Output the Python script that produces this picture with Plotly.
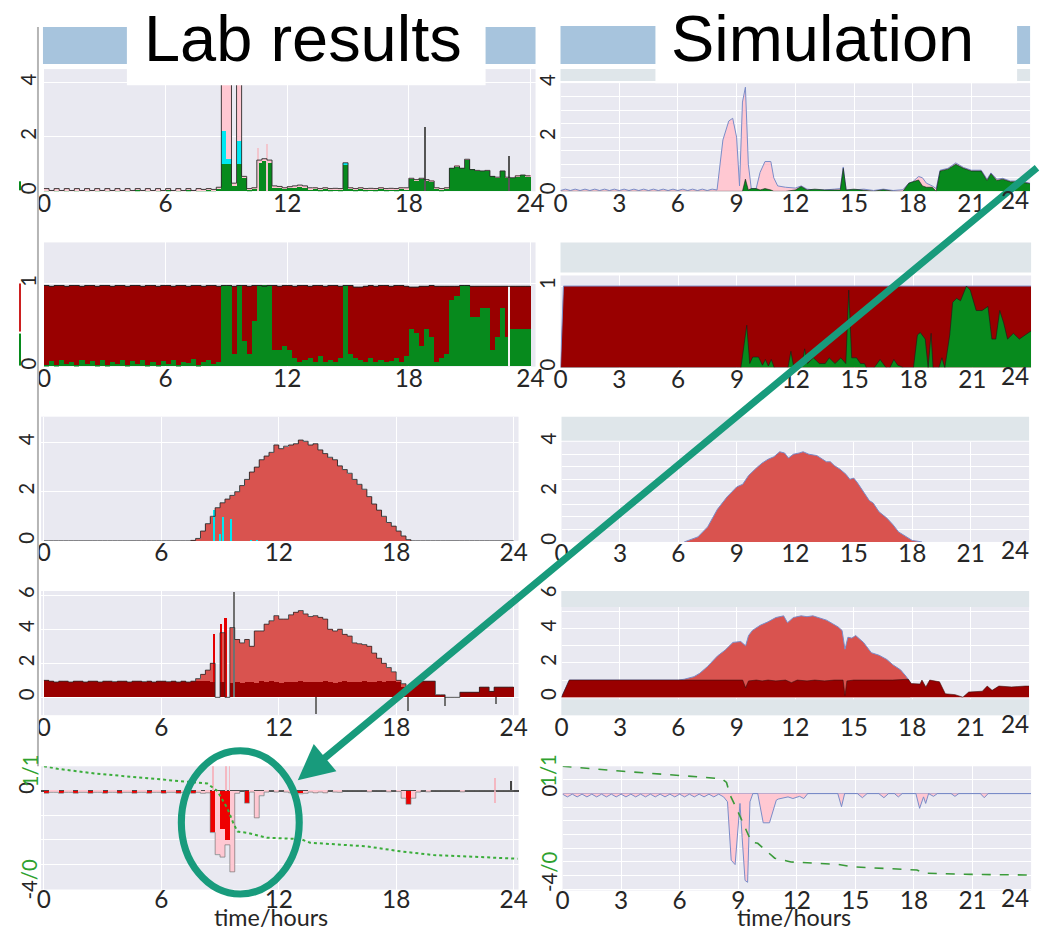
import plotly.graph_objects as go
import numpy as np

W, H = 1041, 937
# Measured mapping of the photographed page: picture = OFS + S * figure pixel.
# All positions below are given in reference-picture pixels and converted.
S, OFS = 0.9855, 6.0

# ======================= DATA =======================
LAB_T = [i * 0.25 for i in range(96)]          # start of each 15-min bin (hours)
X_TICKS_LAB = [0, 6, 12, 18, 24]
X_TICKS_SIM = [0, 3, 6, 9, 12, 15, 18, 21, 24]

# ---- Lab row 1 ----
L1_green = [0.04,0.00,0.04,0.00,0.03,0.00,0.04,0.00,
            0.04,0.00,0.03,0.00,0.04,0.00,0.04,0.00,
            0.03,0.00,0.05,0.00,0.04,0.00,0.04,0.00,
            0.05,0.00,0.04,0.00,0.06,0.00,0.04,0.02,
            0.05,0.03,0.10,1.00,1.00,0.20,1.00,0.50,
            0.05,0.10,1.05,1.10,1.05,0.15,0.15,0.10,
            0.12,0.10,0.15,0.10,0.08,0.10,0.05,0.10,
            0.05,0.08,0.05,1.00,0.10,0.05,0.10,0.05,
            0.08,0.05,0.10,0.05,0.08,0.05,0.10,0.08,
            0.45,0.40,0.45,0.40,0.35,0.10,0.05,0.10,
            0.85,0.90,0.85,1.15,0.80,0.75,0.75,0.75,
            0.55,0.50,0.75,0.50,0.50,0.55,0.60,0.55]
L1_cyan = [0,0,0,0,0,0,0,0, 0,0,0,0,0,0,0,0, 0,0,0,0,0,0,0,0, 0,0,0,0,0,0,0,0,
           0,0,0,1.20,0.20,0,0.85,0, 0,0,0,0,0,0,0,0, 0,0,0,0,0,0,0,0,
           0,0,0,0.05,0,0,0,0, 0,0,0,0,0,0,0,0, 0,0,0,0,0,0,0,0,
           0,0,0,0,0,0,0,0, 0,0,0,0,0,0,0,0]
L1_pink = [0.06,0.03,0.06,0.03,0.07,0.03,0.06,0.03,
           0.06,0.03,0.07,0.03,0.06,0.03,0.06,0.03,
           0.07,0.03,0.05,0.03,0.06,0.03,0.06,0.03,
           0.05,0.03,0.06,0.03,0.04,0.03,0.06,0.05,
           0.05,0.04,0.05,3.30,3.30,0.10,2.65,0.05,
           0.05,0.03,0.10,0.10,0.10,0.05,0.03,0.03,
           0.05,0.10,0.08,0.10,0.05,0.03,0.05,0.03,
           0.05,0.03,0.05,0.00,0.03,0.05,0.03,0.05,
           0.03,0.05,0.03,0.05,0.03,0.05,0.03,0.05,
           0.03,0.03,0.03,0.03,0.03,0.03,0.05,0.03,
           0.00,0.03,0.00,0.03,0.00,0.02,0.00,0.02,
           0.00,0.02,0.00,0.02,0.00,0.02,0.00,0.02]
L1_spike_t = [18.8, 22.95]
L1_spike_v = [2.35, 1.3]
L1_faint_t = [10.55, 11.0]
L1_faint_v = [1.6, 1.75]

# ---- Lab row 2 ----
L2_top = [0.98,0.97,0.98,0.98,0.97,0.98,0.98,0.97,
          0.98,0.98,0.97,0.98,0.98,0.97,0.98,0.98,
          0.97,0.98,0.98,0.97,0.98,0.98,0.97,0.98,
          0.98,0.97,0.98,0.98,0.97,0.98,0.98,0.97,
          0.98,0.98,0.97,0.98,0.98,0.97,0.98,0.98,
          0.97,0.98,0.98,0.97,0.98,0.98,0.97,0.98,
          0.98,0.97,0.98,0.98,0.97,0.98,0.98,0.97,
          0.98,0.98,0.97,0.98,0.98,0.96,0.96,0.97,
          0.98,0.97,0.98,0.98,0.97,0.98,0.98,0.97,
          0.96,0.96,0.97,0.97,0.98,0.97,0.97,0.97,
          0.97,0.97,0.98,0.98,0.97,0.97,0.97,0.97,
          0.97,0.97,0.97,0.97,0.97,0.97,0.97,0.97]
L2_green = [0.02,0.06,0.02,0.08,0.03,0.05,0.02,0.07,
            0.03,0.06,0.02,0.08,0.02,0.05,0.03,0.07,
            0.02,0.06,0.03,0.08,0.02,0.05,0.02,0.06,
            0.03,0.07,0.02,0.05,0.04,0.09,0.02,0.05,
            0.08,0.03,0.05,0.98,0.98,0.15,0.98,0.30,
            0.15,0.55,0.98,0.98,0.98,0.20,0.20,0.25,
            0.20,0.10,0.05,0.08,0.10,0.05,0.12,0.05,
            0.08,0.05,0.10,0.98,0.15,0.10,0.08,0.05,
            0.10,0.05,0.08,0.05,0.06,0.10,0.05,0.12,
            0.45,0.40,0.25,0.45,0.35,0.05,0.10,0.15,
            0.80,0.85,0.98,0.98,0.60,0.60,0.70,0.70,
            0.20,0.35,0.70,0.35,0.45,0.45,0.45,0.45]
L2_gap_t = [22.97]
L2_gap_v = [0.98]

# ---- Lab row 3 ----
L3_red = [0,0,0,0,0,0,0,0, 0,0,0,0,0,0,0,0, 0,0,0,0,0,0,0,0,
          0,0,0,0,0,0,0.02,0.10,
          0.40,0.70,1.00,1.35,1.55,1.70,1.85,2.00,
          2.25,2.50,2.80,3.00,3.30,3.45,3.60,3.90,
          3.75,3.85,3.90,3.95,4.10,4.05,3.90,3.95,
          3.70,3.55,3.40,3.30,3.05,2.90,2.75,2.50,
          2.30,2.10,1.80,1.50,1.25,1.00,0.75,0.60,
          0.40,0.20,0.05,0,0,0,0,0,
          0,0,0,0,0,0,0,0, 0,0,0,0,0,0,0,0]
L3_cyan_t = [8.72, 9.0, 9.15, 9.55, 10.6, 10.9]
L3_cyan_v = [1.25, 0.3, 1.0, 0.9, 0.06, 0.06]

# ---- Lab row 4 ----
L4_dark = [1.00,0.95,0.90,0.95,0.95,0.90,0.95,0.95,
           0.90,0.95,0.95,0.90,0.95,0.95,0.92,0.95,
           0.95,0.90,0.95,0.95,0.92,0.95,0.90,0.95,
           0.95,0.92,0.95,0.90,0.95,0.90,0.95,0.95,
           0.95,0.95,0.90,0.00,0.90,0.00,0.85,0.90,
           0.85,0.90,0.90,0.85,0.95,0.90,0.95,0.90,
           0.85,0.90,0.90,0.90,0.95,0.90,0.90,0.90,
           0.90,0.95,0.90,0.85,0.90,0.95,0.90,0.90,
           0.90,0.95,0.90,0.90,0.95,0.90,0.95,0.95,
           0.90,0.60,0.60,0.60,0.95,0.95,0.95,0.95,
           0.15,0.15,0.00,0.00,0.00,0.30,0.30,0.30,
           0.30,0.60,0.60,0.35,0.60,0.60,0.60,0.60]
L4_light = [0,0,0,0,0,0,0,0, 0,0,0,0,0,0,0,0, 0,0,0,0,0,0,0,0,
            0,0,0,0,0,0,0,1.10,
            1.35,1.60,2.00,0.00,3.80,0.00,4.10,3.40,
            3.20,3.40,3.00,3.90,3.90,4.30,4.50,4.80,
            4.60,4.60,4.85,5.00,5.10,4.90,4.75,4.80,
            4.70,4.60,4.00,3.90,4.00,3.70,3.60,3.20,
            3.15,3.10,3.00,2.60,2.30,2.00,1.75,1.50,
            1.00,0.80,0,0,0,0,0,0,
            0,0,0,0,0,0,0,0, 0,0,0,0,0,0,0,0]
L4_bright_t = [8.7, 9.05, 9.3]
L4_bright_v = [3.75, 4.3, 4.65]
L4_glitch_t = [9.72, 13.9, 18.6, 20.5, 23.1]
L4_glitch_v = [6.2, -1.0, -0.8, -0.5, -0.4]

# ---- Lab row 5 ----
L5_red = [-0.10,0,0,-0.10,0,0,-0.10,0,
          0,-0.10,0,0,-0.10,0,0,-0.10,
          0,0,-0.10,0,0,-0.10,0,0,
          -0.10,0,0,-0.10,0,0,-0.10,0,
          0,0,-1.70,0,-1.55,-2.00,0,0,
          0,-0.50,0,0,0,0,0,0,
          0,0,0,-0.10,-0.12,0,0,0,
          0,0,0,0,0,0,0,0,
          0,0,0,0,0,0,0,0,
          0,0,-0.55,0,0,0,0,0,
          0,0,0,0,0,0,0,0,
          0,0,0,0,0,0,0,0]
L5_pink = [0,-0.06,-0.06,0,-0.06,-0.06,0,-0.06,
           -0.06,0,-0.06,-0.06,0,-0.06,-0.06,0,
           -0.06,-0.06,0,-0.06,-0.06,0,-0.06,-0.06,
           0,-0.06,-0.06,0,-0.06,-0.06,0,-0.06,
           -0.10,-0.08,-1.70,-2.60,-2.70,-2.20,-3.30,-0.10,
           0,-0.10,-0.05,-1.10,-0.20,-0.05,0,-0.05,
           0,-0.05,-0.08,0,0,-0.10,-0.05,-0.08,
           -0.05,-0.08,0,-0.05,-0.06,0,0,0,
           0,0,-0.04,0,0,0,-0.04,0,
           -0.03,-0.30,0,-0.30,-0.05,0,-0.04,0,
           0,0,0,0,0,-0.04,0,0,
           0,0,0,0,0,0,0,0]
L5_spike_t = [8.62, 9.3, 9.48, 23.05, 23.05]
L5_spike_v = [1.0, 1.0, 1.0, 0.5, -0.5]
L5_dark_t = [23.85]
L5_dark_v = [0.4]
L5_frac_t = [0.0, 0.7, 2.7, 4.8, 7.0, 8.35, 8.86, 9.37, 9.7, 9.9, 10.4, 11.4,
             13.1, 13.6, 16.5, 18.2, 19.9, 21.6, 23.3, 24.2]
L5_frac_v = [1.0, 0.98, 0.94, 0.91, 0.88, 0.86, 0.80, 0.66, 0.53, 0.47, 0.46, 0.42,
             0.41, 0.38, 0.35, 0.31, 0.28, 0.27, 0.26, 0.25]

# ---- Simulation row 1 ----
R1_t = [0.0,0.25,0.5,0.75,1.0,1.25,1.5,1.75,2.0,2.25,2.5,2.75,3.0,3.25,3.5,3.75,
        4.0,4.25,4.5,4.75,5.0,5.25,5.5,5.75,6.0,6.25,6.5,6.75,7.0,7.25,7.5,7.75,
        8.0,8.3,8.6,8.8,9.0,9.15,9.3,9.45,9.6,9.75,10.0,10.2,10.45,10.75,10.9,11.1,
        11.5,12.0,12.3,12.6,13.0,13.5,14.0,14.3,14.45,14.6,15.0,15.5,16.0,16.5,17.0,17.5,
        17.8,18.0,18.3,18.5,18.7,19.0,19.2,19.4,19.8,20.2,20.6,21.0,21.5,21.8,22.0,22.3,
        22.6,23.0,23.5,24.0]
R1_pink = [0.03,0.08,0.03,0.08,0.03,0.08,0.03,0.08,0.03,0.08,0.03,0.08,0.03,0.08,0.03,0.08,
           0.03,0.08,0.03,0.08,0.03,0.08,0.03,0.08,0.03,0.08,0.03,0.08,0.03,0.08,0.03,0.08,
           0.05,1.9,2.6,2.7,2.0,0.2,3.3,3.85,1.0,0.1,0.1,0.7,1.1,1.1,0.5,0.2,
           0.15,0.12,0.2,0.08,0.05,0.05,0.08,0.1,0.9,0.05,0.05,0.08,0.03,0.08,0.03,0.06,
           0.3,0.35,0.55,0.5,0.3,0.2,0.1,0.78,0.85,1.05,0.88,0.78,0.78,0.45,0.68,0.45,
           0.48,0.38,0.38,0.3]
R1_green = [0,0,0,0,0,0,0,0,0,0,0,0,0,0,0,0,
            0,0,0,0,0,0,0,0,0,0,0,0,0,0,0,0,
            0,0,0,0,0,0,0,0.45,0.05,0.1,0.1,0.05,0.1,0.05,0.0,0.0,
            0.0,0.05,0.18,0.05,0.08,0.05,0.05,0.05,0.85,0.05,0.08,0.05,0.0,0.06,0.0,0.0,
            0.3,0.35,0.42,0.2,0.15,0.15,0.0,0.75,0.82,1.0,0.85,0.75,0.75,0.4,0.65,0.4,
            0.45,0.35,0.35,0.28]

# ---- Simulation row 2 ----
R2_red_t = [0.0, 0.15, 24.0]
R2_red = [0.0, 1.0, 1.0]
R2_t = [0.0,9.2,9.5,9.65,9.8,10.1,10.3,10.45,10.6,10.75,10.9,11.6,11.75,11.9,12.3,12.45,
        12.6,12.9,13.2,13.5,13.7,14.0,14.3,14.55,14.7,14.85,15.1,15.3,15.5,15.6,16.0,16.3,
        16.6,16.8,17.0,17.2,17.5,18.0,18.2,18.35,18.6,18.75,18.9,19.0,19.3,19.45,19.6,19.85,
        20.0,20.2,20.4,20.7,20.9,21.2,21.5,21.8,22.0,22.2,22.4,22.6,22.8,23.1,23.4,24.0]
R2_green = [0.0,0.0,0.52,0.05,0.13,0.13,0.03,0.1,0.02,0.1,0.0,0.0,0.2,0.0,0.02,0.23,
            0.05,0.12,0.05,0.05,0.12,0.05,0.12,0.05,0.95,0.12,0.12,0.05,0.05,0.0,0.0,0.1,
            0.0,0.0,0.1,0.03,0.0,0.0,0.4,0.43,0.35,0.0,0.42,0.0,0.0,0.12,0.0,0.4,
            0.8,0.85,0.82,1.0,0.95,0.7,0.7,0.75,0.35,0.35,0.7,0.55,0.35,0.42,0.35,0.45]

# ---- Simulation row 3 ----
R3_t = [6.3,7.0,7.5,8.0,8.5,9.0,9.3,9.6,10.0,10.3,10.6,10.9,11.2,11.45,11.65,11.9,12.2,
        12.4,12.7,13.1,13.4,13.6,13.8,14.0,14.3,14.6,14.8,15.0,15.2,15.5,15.8,16.0,16.3,
        16.7,17.0,17.3,17.7,18.0,18.5]
R3_v = [0.0,0.2,0.6,1.3,1.8,2.2,2.3,2.65,2.95,3.15,3.3,3.4,3.6,3.55,3.35,3.5,3.55,
        3.6,3.5,3.45,3.3,3.2,3.2,3.05,2.9,2.7,2.5,2.55,2.35,2.0,1.65,1.55,1.2,
        0.95,0.7,0.4,0.2,0.06,0.0]

# ---- Simulation row 4 ----
R4_light_t = [0.0,0.4,6.0,6.3,6.8,7.1,7.5,8.0,8.4,8.8,9.2,9.45,9.6,9.8,10.2,10.6,11.0,11.4,
              11.6,11.9,12.3,12.6,12.9,13.3,13.6,13.9,14.2,14.4,14.55,14.7,14.9,15.1,15.5,
              15.9,16.3,16.7,17.0,17.4,17.7,17.9]
R4_light = [0.0,1.0,1.0,1.05,1.2,1.4,1.8,2.4,2.75,3.2,3.25,3.0,3.6,3.9,4.2,4.4,4.65,4.75,
            4.35,4.65,4.75,4.7,4.75,4.6,4.5,4.3,4.1,3.9,2.8,3.5,3.45,3.6,3.2,
            2.6,2.45,2.2,1.9,1.6,1.2,0.85]
R4_dark_t = [0.0,0.4,9.3,9.45,9.6,10.0,10.3,10.6,11.0,11.5,11.8,12.1,12.6,13.0,13.5,14.0,
             14.45,14.55,14.65,15.0,16.0,17.0,17.8,17.95,18.4,18.5,18.7,18.9,19.4,19.7,
             20.2,20.6,20.9,21.6,21.85,22.1,22.45,23.1,23.8,24.0]
R4_dark = [0.0,1.0,1.0,0.55,0.95,1.0,0.95,1.0,0.95,1.0,0.85,1.0,0.95,1.0,0.95,1.0,
           1.0,0.1,0.95,1.0,1.0,1.0,1.05,0.8,0.77,1.0,0.6,1.0,0.9,0.2,
           0.15,0.0,0.3,0.35,0.65,0.4,0.65,0.6,0.65,0.65]

# ---- Simulation row 5 ----
R5_t = [0.0,0.25,0.5,0.75,1.0,1.25,1.5,1.75,2.0,2.25,2.5,2.75,3.0,3.25,3.5,3.75,4.0,
        4.25,4.5,4.75,5.0,5.25,5.5,5.75,6.0,6.25,6.5,6.75,7.0,7.25,7.5,7.75,8.0,8.25,
        8.45,8.64,8.84,9.0,9.09,9.2,9.35,9.48,9.6,9.75,10.0,10.28,10.6,10.95,11.05,11.55,
        11.8,12.14,12.36,12.56,14.1,14.29,14.45,15.1,15.36,15.6,16.2,16.46,16.7,17.0,17.2,
        17.4,18.1,18.29,18.49,18.6,18.75,19.0,19.2,19.9,20.1,20.3,21.4,21.6,21.8,24.0]
R5_v = [-0.02,-0.12,-0.02,-0.12,-0.02,-0.12,-0.02,-0.12,-0.02,-0.12,-0.02,-0.12,-0.02,-0.12,
        -0.02,-0.12,-0.02,-0.12,-0.02,-0.12,-0.02,-0.12,-0.02,-0.12,-0.02,-0.12,-0.02,-0.12,
        -0.02,-0.12,-0.02,-0.12,-0.02,-0.12,
        -0.3,-2.44,-2.6,-1.25,-0.36,-1.6,-3.18,-3.25,-0.3,0.0,0.0,-1.07,-1.07,-0.24,-0.2,-0.12,
        -0.18,-0.1,-0.18,0.0,0.0,-0.48,0.0,0.0,-0.15,0.0,0.0,-0.15,0.0,0.0,-0.12,
        0.0,0.0,-0.54,-0.12,-0.36,0.0,-0.1,0.0,0.0,-0.1,0.0,0.0,-0.15,0.0,0.0]
R5_frac_t = [0.0,1.4,3.1,6.1,8.16,8.4,8.58,9.0,9.43,9.68,10.0,10.36,10.87,11.7,14.1,14.9,
             17.5,18.15,18.5,20.9,23.7,24.0]
R5_frac_v = [1.0,0.98,0.96,0.925,0.9,0.87,0.77,0.63,0.47,0.39,0.38,0.33,0.26,0.23,0.21,0.19,
             0.17,0.165,0.14,0.13,0.125,0.125]

for a in (L1_green, L1_cyan, L1_pink, L2_top, L2_green, L3_red, L4_dark, L4_light, L5_red, L5_pink):
    assert len(a) == 96, len(a)
assert len(R1_t) == len(R1_pink) == len(R1_green)
assert len(R2_t) == len(R2_green)
assert len(R3_t) == len(R3_v)
assert len(R4_light_t) == len(R4_light) and len(R4_dark_t) == len(R4_dark)
assert len(R5_t) == len(R5_v) and len(R5_frac_t) == len(R5_frac_v)

# ======================= STYLE =======================
DARK_RED = '#990000'
LIGHT_RED = '#d9534f'
GREEN = '#078a1d'
PINK = '#ffc8d2'
CYAN = '#00e8f2'
BG = '#e9e9f1'
STRIP = '#dfe6ea'
BLUE_BAR = '#a7c4dd'
TEAL = '#189b7c'
EDGE_BLUE = '#7a8cc8'
TXT = '#262626'
LAB_GREEN = '#2ea12e'
TICK_FONT = "Lato, 'Open Sans', sans-serif"
TITLE_FONT = 'Liberation Sans, Arial, sans-serif'


def clamp(v):
    return min(1.0, max(0.0, v))


def fpx(X):        # reference picture pixel -> figure pixel
    return (X - OFS) / S


def PX(X):
    return fpx(X) / W


def PY(Y):
    return 1 - fpx(Y) / H


def fs(size):
    return size / S


fig = go.Figure()


def axn(k):
    return ('x' if k == 1 else f'x{k}'), ('y' if k == 1 else f'y{k}')


def bin_bars(k, vals, color, base=None):
    xa, ya = axn(k)
    fig.add_trace(go.Bar(x=LAB_T, y=vals, base=base, width=0.25, offset=0,
                         marker=dict(color=color, line=dict(width=0)),
                         xaxis=xa, yaxis=ya, hoverinfo='skip', showlegend=False))


def thin_bars(k, t, vals, color, w=0.06):
    xa, ya = axn(k)
    fig.add_trace(go.Bar(x=t, y=vals, width=w, offset=-w / 2,
                         marker=dict(color=color, line=dict(width=0)),
                         xaxis=xa, yaxis=ya, hoverinfo='skip', showlegend=False))


def step_line(k, vals, color='#2b2b2b', width=0.9):
    xa, ya = axn(k)
    v = list(vals)
    fig.add_trace(go.Scatter(x=LAB_T + [24], y=v + [v[-1]], mode='lines',
                             line=dict(color=color, width=width, shape='hv'),
                             xaxis=xa, yaxis=ya, hoverinfo='skip', showlegend=False))


def area(k, t, v, fill, line, lw=1.0):
    xa, ya = axn(k)
    fig.add_trace(go.Scatter(x=t, y=v, mode='lines', fill='tozeroy', fillcolor=fill,
                             line=dict(color=line, width=lw),
                             xaxis=xa, yaxis=ya, hoverinfo='skip', showlegend=False))


# ---- Lab row 1 ----
g1 = np.array(L1_green); c1 = np.array(L1_cyan); p1 = np.array(L1_pink)
bin_bars(1, L1_green, GREEN)
bin_bars(1, L1_cyan, CYAN, base=list(g1))
bin_bars(1, L1_pink, PINK, base=list(g1 + c1))
thin_bars(1, L1_faint_t, L1_faint_v, '#f2c6ce', 0.05)
thin_bars(1, L1_spike_t, L1_spike_v, '#555555', 0.04)
step_line(1, list(g1 + c1 + p1))

# ---- Lab row 2 ----
bin_bars(3, L2_top, DARK_RED)
bin_bars(3, L2_green, GREEN)
thin_bars(3, L2_gap_t, L2_gap_v, '#f4f4f4', 0.08)
step_line(3, L2_top, '#222222', 1.0)

# ---- Lab row 3 ----
bin_bars(5, L3_red, LIGHT_RED)
step_line(5, L3_red, '#2b2b2b', 0.9)
thin_bars(5, L3_cyan_t, L3_cyan_v, CYAN, 0.07)

# ---- Lab row 4 ----
bin_bars(7, L4_light, LIGHT_RED)
thin_bars(7, L4_bright_t, L4_bright_v, '#e60000', 0.1)
bin_bars(7, L4_dark, DARK_RED)
thin_bars(7, L4_glitch_t, L4_glitch_v, '#707070', 0.05)
step_line(7, list(np.maximum(np.array(L4_light), np.array(L4_dark))), '#2b2b2b', 0.8)

# ---- Lab row 5 ----
bin_bars(9, L5_pink, PINK)
bin_bars(9, L5_red, '#ee0000')
step_line(9, list(np.minimum(np.array(L5_pink), np.array(L5_red))), '#777777', 0.7)
thin_bars(9, L5_spike_t, L5_spike_v, '#f4b8c2', 0.05)
thin_bars(9, L5_dark_t, L5_dark_v, '#444444', 0.04)
fig.add_trace(go.Scatter(x=L5_frac_t, y=L5_frac_v, mode='lines',
                         line=dict(color='#3aad3a', width=2, dash='dot'),
                         xaxis='x9', yaxis='y11', hoverinfo='skip', showlegend=False))

# ---- Simulation rows ----
area(2, R1_t, R1_pink, PINK, EDGE_BLUE, 1.0)
area(2, R1_t, R1_green, GREEN, '#1a1a1a', 0.6)

area(4, R2_red_t, R2_red, DARK_RED, EDGE_BLUE, 1.0)
area(4, R2_t, R2_green, GREEN, '#1a1a1a', 0.6)

area(6, R3_t, R3_v, LIGHT_RED, EDGE_BLUE, 1.0)

area(8, R4_light_t, R4_light, LIGHT_RED, EDGE_BLUE, 1.0)
area(8, R4_dark_t, R4_dark, DARK_RED, '#3a1010', 0.6)

area(10, R5_t, R5_v, PINK, EDGE_BLUE, 1.0)
fig.add_trace(go.Scatter(x=R5_frac_t, y=R5_frac_v, mode='lines',
                         line=dict(color='#3a9a3a', width=1.6, dash='dash'),
                         xaxis='x10', yaxis='y12', hoverinfo='skip', showlegend=False))

# ======================= AXES =======================
def hx(a, b):
    return [clamp(PX(a)), clamp(PX(b))]


def vy(top, bottom):
    return [clamp(PY(bottom)), clamp(PY(top))]


def half_ticks(lo, hi, labelled):
    vals, txt = [], []
    v = lo
    while v <= hi + 1e-9:
        vals.append(round(v, 2))
        txt.append(('%g' % v) if round(v, 2) in labelled else '')
        v += 0.5
    return vals, txt


r1v, r1t = half_ticks(0, 4, [0, 2, 4])
r5v, r5t = half_ticks(-3.5, 0.5, [0])

PANELS = {
    1: dict(px=(42, 535), py=(66, 188), xr=[-0.05, 24.25], yr=[0, 4.5], xt=X_TICKS_LAB,
            yt=[0, 2, 4], ytt=['0', '2', '4']),
    2: dict(px=(560, 1030), py=(80, 188), xr=[0, 24], yr=[0, 4.0], xt=X_TICKS_SIM,
            yt=r1v, ytt=r1t),
    3: dict(px=(42, 535), py=(239, 363), xr=[-0.05, 24.25], yr=[0, 1.5], xt=X_TICKS_LAB,
            yt=[0, 1], ytt=['0', '1']),
    4: dict(px=(560, 1031), py=(272, 364), xr=[0, 24], yr=[0, 1.13], xt=X_TICKS_SIM,
            yt=[0, 1], ytt=['0', '1']),
    5: dict(px=(40, 518), py=(413, 537), xr=[-0.15, 24.25], yr=[0, 5.05], xt=X_TICKS_LAB,
            yt=[0, 2, 4], ytt=['0', '2', '4']),
    6: dict(px=(561, 1029), py=(438, 538), xr=[0, 24], yr=[0, 4.0], xt=X_TICKS_SIM,
            yt=r1v, ytt=r1t),
    7: dict(px=(40, 518), py=(587, 711), xr=[-0.15, 24.25], yr=[-1.05, 6.25], xt=X_TICKS_LAB,
            yt=[0, 2, 4, 6], ytt=['0', '2', '4', '6']),
    8: dict(px=(561, 1029), py=(587, 711), xr=[0, 24], yr=[-1.05, 6.2], xt=X_TICKS_SIM,
            yt=[0, 1, 2, 3, 4, 5, 6], ytt=['0', '', '2', '', '4', '', '6']),
    9: dict(px=(40, 518), py=(762, 885), xr=[-0.15, 24.25], yr=[-4.02, 1.0], xt=X_TICKS_LAB,
            yt=[-3, -2, -1, 0], ytt=['', '', '', '0']),
    10: dict(px=(562, 1031), py=(762, 886), xr=[0, 24], yr=[-3.55, 1.0], xt=X_TICKS_SIM,
             yt=r5v, ytt=r5t),
}

layout_axes = {}
sim_last_label = []
for k, p in PANELS.items():
    xname = 'xaxis' if k == 1 else f'xaxis{k}'
    yname = 'yaxis' if k == 1 else f'yaxis{k}'
    xa, ya = axn(k)
    is_sim = (k % 2 == 0)
    xtext = [str(v) for v in p['xt']]
    if is_sim:
        # the last label is drawn just inside the panel edge (see annotations)
        sim_last_label.append((xtext[-1], p['py'][1]))
        xtext[-1] = ''
    standoff = -7 if k >= 9 else -5
    layout_axes[xname] = dict(domain=hx(*p['px']), range=p['xr'], anchor=ya,
                              tickmode='array', tickvals=p['xt'], ticktext=xtext,
                              showgrid=True, gridcolor='white', gridwidth=1, zeroline=False,
                              showline=False, ticks='', ticklabelstandoff=standoff,
                              tickfont=dict(family=TICK_FONT, size=fs(24), color=TXT))
    layout_axes[yname] = dict(domain=vy(*p['py']), range=p['yr'], anchor=xa,
                              tickmode='array', tickvals=p['yt'], ticktext=p['ytt'], tickangle=-90,
                              showgrid=True, gridcolor='white', gridwidth=1, zeroline=False,
                              showline=False, ticks='', ticklabelstandoff=(0 if is_sim else 2),
                              tickfont=dict(family=TICK_FONT, size=fs(20), color=TXT))
layout_axes['yaxis9'].update(zeroline=True, zerolinecolor='#4a4a4a', zerolinewidth=1.6)
layout_axes['yaxis10'].update(zeroline=True, zerolinecolor=EDGE_BLUE, zerolinewidth=1.2)
layout_axes['yaxis11'] = dict(overlaying='y9', range=[0, 1], anchor='x9', showgrid=False,
                              zeroline=False, showticklabels=False, ticks='')
layout_axes['yaxis12'] = dict(overlaying='y10', range=[0, 1], anchor='x10', showgrid=False,
                              zeroline=False, showticklabels=False, ticks='')

fig.update_layout(**layout_axes)

# ======================= DECORATION =======================
def rect(x0, y0, x1, y1, color, layer='above'):
    return dict(type='rect', xref='paper', yref='paper', x0=PX(x0), x1=PX(x1),
                y0=PY(y1), y1=PY(y0), fillcolor=color, line=dict(width=0), layer=layer)


shapes = [
    rect(42, 24, 535, 61, BLUE_BAR),
    rect(560, 23, 1030, 61, BLUE_BAR),
    rect(560, 66, 1030, 78, STRIP),
    rect(560, 239, 1031, 269, STRIP),
    rect(561, 413, 1029, 437, STRIP),
    rect(561, 587, 1029, 603, STRIP),
    rect(561, 695, 1029, 711, STRIP),
    rect(126, 6, 485, 82, 'white'),
    rect(655, 6, 1017, 80, 'white'),
    rect(18, 178, 20, 187, GREEN),
    rect(18, 280, 20, 328, '#cc2020'),
    rect(18, 330, 20, 362, GREEN),
    dict(type='line', xref='paper', yref='paper', x0=PX(37), x1=PX(37),
         y0=PY(762), y1=PY(24), line=dict(color='#b5b5b5', width=2), layer='above'),
    dict(type='circle', xref='paper', yref='paper', x0=PX(180.5), x1=PX(298.5),
         y0=PY(889.5), y1=PY(746.5), line=dict(color=TEAL, width=7.1), layer='above'),
]

# arrow: head at (297, 776), tail where the line meets the right edge of the picture
HEAD = (297, 776)
TAIL = (1027, 171)
ann = [
    dict(text='Lab results', x=PX(302.5), y=PY(35), xref='paper', yref='paper',
         showarrow=False, font=dict(family=TITLE_FONT, size=fs(64), color='black'),
         xanchor='center', yanchor='middle'),
    dict(text='Simulation', x=PX(822), y=PY(35), xref='paper', yref='paper',
         showarrow=False, font=dict(family=TITLE_FONT, size=fs(64), color='black'),
         xanchor='center', yanchor='middle'),
    dict(text='time/hours', x=PX(270), y=1 / H, xref='paper', yref='paper', showarrow=False,
         font=dict(family=TICK_FONT, size=fs(23), color=TXT), xanchor='center', yanchor='bottom'),
    dict(text='time/hours', x=PX(794), y=1 / H, xref='paper', yref='paper', showarrow=False,
         font=dict(family=TICK_FONT, size=fs(23), color=TXT), xanchor='center', yanchor='bottom'),
    dict(text='1/1', x=PX(29), y=PY(766), xref='paper', yref='paper', showarrow=False,
         textangle=-90, font=dict(family=TICK_FONT, size=fs(20), color=LAB_GREEN),
         xanchor='center', yanchor='middle'),
    dict(text='-4<span style="color:%s">/0</span>' % LAB_GREEN, x=PX(29), y=PY(875),
         xref='paper', yref='paper', showarrow=False, textangle=-90,
         font=dict(family=TICK_FONT, size=fs(20), color=TXT), xanchor='center', yanchor='middle'),
    dict(text='1/1', x=PX(548), y=PY(766), xref='paper', yref='paper', showarrow=False,
         textangle=-90, font=dict(family=TICK_FONT, size=fs(20), color=LAB_GREEN),
         xanchor='center', yanchor='middle'),
    dict(text='-4<span style="color:%s">/0</span>' % LAB_GREEN, x=PX(549), y=PY(868),
         xref='paper', yref='paper', showarrow=False, textangle=-90,
         font=dict(family=TICK_FONT, size=fs(20), color=TXT), xanchor='center', yanchor='middle'),
    dict(text='', x=PX(HEAD[0]), y=PY(HEAD[1]), xref='paper', yref='paper',
         ax=fpx(TAIL[0]) - fpx(HEAD[0]), ay=fpx(TAIL[1]) - fpx(HEAD[1]),
         axref='pixel', ayref='pixel', showarrow=True,
         arrowhead=2, arrowsize=1, arrowwidth=7.1, arrowcolor=TEAL, standoff=0),
]
for txt, bottom in sim_last_label:
    ann.append(dict(text=txt, x=PX(1015), y=PY(bottom + (7 if bottom > 880 else 8)),
                    xref='paper', yref='paper', showarrow=False,
                    font=dict(family=TICK_FONT, size=fs(24), color=TXT),
                    xanchor='center', yanchor='middle'))

fig.update_layout(width=W, height=H, margin=dict(l=0, r=0, t=0, b=0), autosize=False,
                  paper_bgcolor='white', plot_bgcolor=BG, barmode='overlay', bargap=0,
                  showlegend=False, shapes=shapes, annotations=ann)

fig.write_html("out.html", config={'displayModeBar': False},
               post_script="document.body.style.margin='0px';")
